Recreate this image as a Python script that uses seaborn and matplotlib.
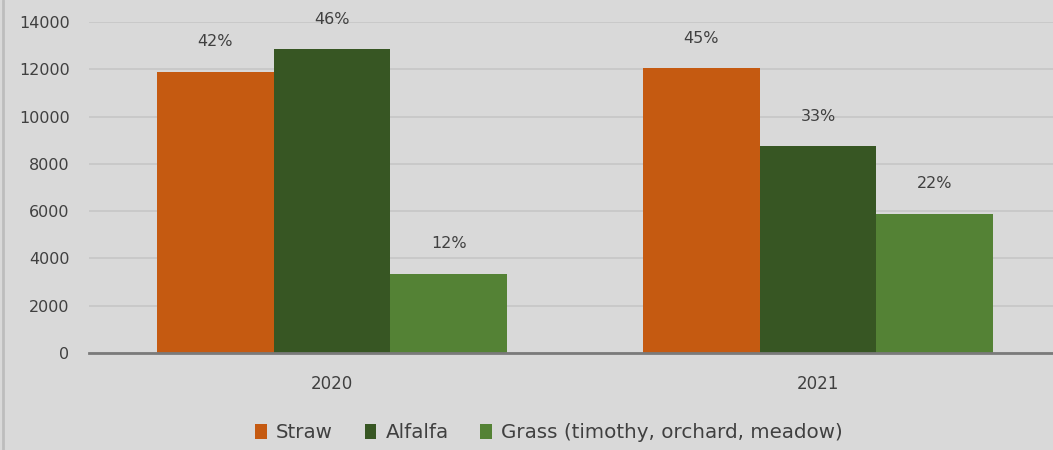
import numpy as np
import pandas as pd
import matplotlib
matplotlib.use("Agg")
import matplotlib.pyplot as plt
from matplotlib.lines import Line2D
from matplotlib.patches import Patch
import seaborn as sns

# Hay sold by type, per year (tons)
years = ["2020", "2021"]
hay_types = ["Straw", "Alfalfa", "Grass (timothy, orchard, meadow)"]
straw = [11900, 12050]
alfalfa = [12850, 8750]
grass = [3350, 5900]
y_ticks = [0, 2000, 4000, 6000, 8000, 10000, 12000, 14000]

colors = ["#c55a11", "#375623", "#548235"]
bg = "#d9d9d9"
text_color = "#404040"

df = pd.DataFrame({
    "year": years * 3,
    "type": np.repeat(hay_types, len(years)),
    "tons": straw + alfalfa + grass,
})
totals = df.groupby("year")["tons"].transform("sum")
df["share"] = df["tons"] / totals

sns.set_style("white")
plt.rcParams["font.family"] = ["DejaVu Sans"]

W, H = 1053, 450
fig = plt.figure(figsize=(W / 100, H / 100), dpi=100, facecolor=bg)
ax = fig.add_axes([89 / W, (H - 353) / H, (1061 - 89) / W, (353 - 22) / H])
ax.set_facecolor(bg)

sns.barplot(data=df, x="year", y="tons", hue="type", order=years,
            hue_order=hay_types, palette=colors, saturation=1, width=0.72,
            errorbar=None, legend=False, linewidth=0, ax=ax)

# percentage share labels above each bar
for cont, t in zip(ax.containers, hay_types):
    shares = df[df["type"] == t].set_index("year").loc[years, "share"].values
    for bar, s in zip(cont.patches, shares):
        ax.annotate(f"{s:.0%}", (bar.get_x() + bar.get_width() / 2, bar.get_height()),
                    xytext=(0, 21.6), textcoords="offset points", ha="center",
                    va="center", fontsize=11.5, color=text_color, annotation_clip=False)

ax.set_xlim(-0.5, 1.5)
ax.set_ylim(0, 14000)
ax.set_yticks(y_ticks)
ax.set_yticklabels([str(v) for v in y_ticks])
ax.set_axisbelow(True)
ax.yaxis.grid(True, color="#c8c8c8", linewidth=1.3)
ax.xaxis.grid(False)
for side in ["top", "right", "left"]:
    ax.spines[side].set_visible(False)
ax.spines["bottom"].set_color("#7a7a7a")
ax.spines["bottom"].set_linewidth(2)
ax.tick_params(axis="y", length=0, pad=14, labelsize=11.5, labelcolor=text_color)
ax.tick_params(axis="x", length=0, pad=16, labelsize=12, labelcolor=text_color)
ax.set_xlabel("")
ax.set_ylabel("")

handles = [Patch(facecolor=c, edgecolor="none") for c in colors]
fig.legend(handles, hay_types, loc="center", bbox_to_anchor=(549 / W, 1 - 433 / H),
           ncol=3, frameon=False, fontsize=14.3, handlelength=0.6, handleheight=0.75,
           handletextpad=0.45, columnspacing=1.6, labelcolor=text_color)

fig.add_artist(Line2D([3 / W, 3 / W], [0, 1], transform=fig.transFigure,
                      color="#bdbdbd", linewidth=2))

fig.savefig("out.png", dpi=100, facecolor=bg)
